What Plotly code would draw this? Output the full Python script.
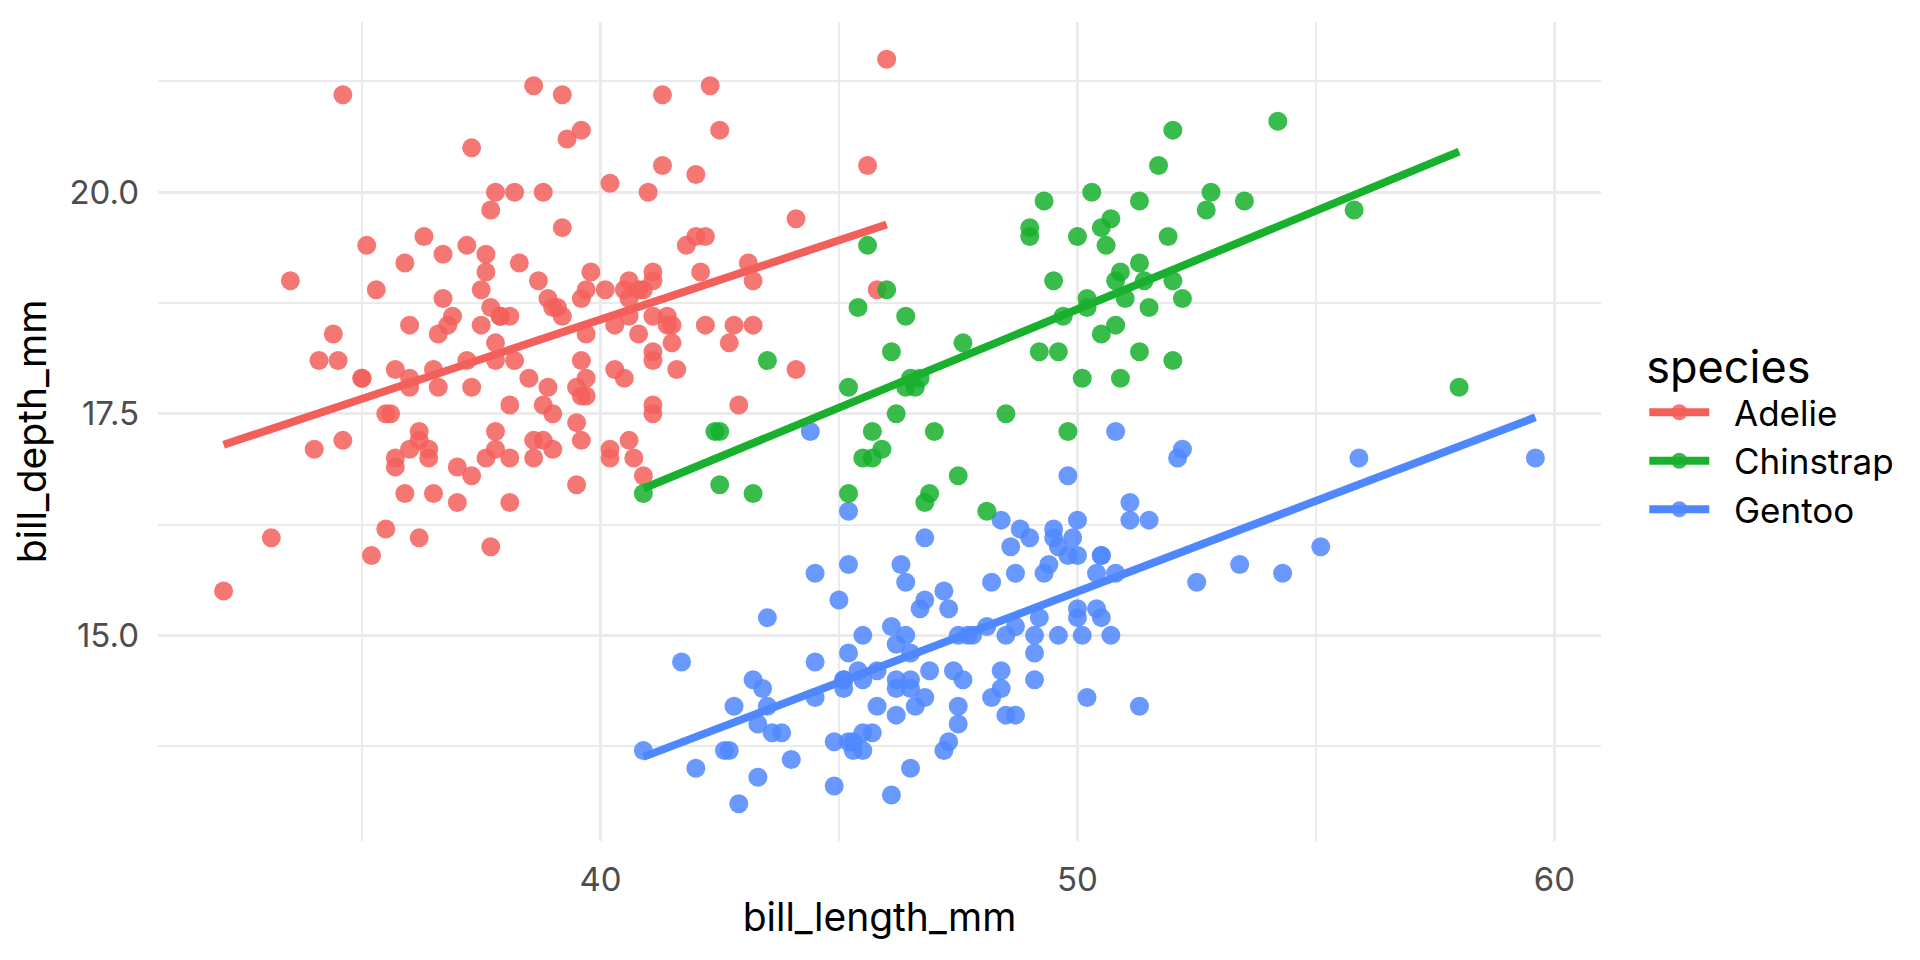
import numpy as np
import plotly.graph_objects as go

# bill length / depth per species
species = ["Adelie", "Chinstrap", "Gentoo"]
colors = {"Adelie": "#F35F5A", "Chinstrap": "#18B02D", "Gentoo": "#4F87FF"}

adelie_len = [39.1, 39.5, 40.3, 36.7, 39.3, 38.9, 39.2, 34.1, 42.0, 37.8,
              37.8, 41.1, 38.6, 34.6, 36.6, 38.7, 42.5, 34.4, 46.0, 37.8,
              37.7, 35.9, 38.2, 38.8, 35.3, 40.6, 40.5, 37.9, 40.5, 39.5,
              37.2, 39.5, 40.9, 36.4, 39.2, 38.8, 42.2, 37.6, 39.8, 36.5,
              40.8, 36.0, 44.1, 37.0, 39.6, 41.1, 37.5, 36.0, 42.3, 39.6,
              40.1, 35.0, 42.0, 34.5, 41.4, 39.0, 40.6, 36.5, 37.6, 35.7,
              41.3, 37.6, 41.1, 36.4, 41.6, 35.5, 41.1, 35.9, 41.8, 33.5,
              39.7, 39.6, 45.8, 35.5, 42.8, 40.9, 37.2, 36.2, 42.1, 34.6,
              42.9, 36.7, 35.1, 37.3, 41.3, 36.3, 36.9, 38.3, 38.9, 35.7,
              41.1, 34.0, 39.6, 36.2, 40.8, 38.1, 40.3, 33.1, 43.2, 35.0,
              41.0, 37.7, 37.8, 37.9, 39.7, 38.6, 38.2, 38.1, 43.2, 38.1,
              45.6, 39.7, 42.2, 39.6, 42.7, 38.6, 37.3, 35.7, 41.1, 36.2,
              37.7, 40.2, 41.4, 35.2, 40.6, 38.8, 41.5, 39.0, 44.1, 38.5,
              43.1, 36.8, 37.5, 38.1, 41.1, 35.6, 40.2, 37.0, 39.7, 40.2,
              40.6, 32.1, 40.7, 37.3, 39.0, 39.2, 36.6, 36.0, 37.8, 36.0, 41.5]
adelie_dep = [18.7, 17.4, 18.0, 19.3, 20.6, 17.8, 19.6, 18.1, 20.2, 17.1,
              17.3, 17.6, 21.2, 21.1, 17.8, 19.0, 20.7, 18.4, 21.5, 18.3,
              18.7, 19.2, 18.1, 17.2, 18.9, 18.6, 17.9, 18.6, 18.9, 16.7,
              18.1, 17.8, 18.9, 17.0, 21.1, 20.0, 18.5, 19.3, 19.1, 18.0,
              18.4, 18.5, 19.7, 16.9, 18.8, 19.0, 18.9, 17.9, 21.2, 17.7,
              18.9, 17.9, 19.5, 18.1, 18.6, 17.5, 18.8, 16.6, 19.1, 16.9,
              21.1, 17.0, 18.2, 17.1, 18.0, 16.2, 19.1, 16.6, 19.4, 19.0,
              18.4, 17.2, 18.9, 17.5, 18.5, 16.8, 19.4, 16.1, 19.1, 17.2,
              17.6, 18.8, 19.4, 17.8, 20.3, 19.5, 18.6, 19.2, 18.8, 18.0,
              18.1, 17.1, 18.1, 17.3, 18.9, 18.6, 18.5, 16.1, 18.5, 17.9,
              20.0, 16.0, 20.0, 18.6, 18.9, 17.2, 20.0, 17.0, 19.0, 16.5,
              20.3, 17.7, 19.5, 20.7, 18.3, 17.0, 20.5, 17.0, 18.6, 17.2,
              19.8, 17.0, 18.5, 15.9, 19.0, 17.6, 18.3, 17.1, 18.0, 17.9,
              19.2, 18.5, 18.5, 17.6, 17.5, 17.5, 20.1, 16.5, 17.9, 17.1,
              17.2, 15.5, 17.0, 16.8, 18.7, 18.6, 18.4, 17.8, 18.1, 17.1, 18.5]

chinstrap_len = [46.5, 50.0, 51.3, 45.4, 52.7, 45.2, 46.1, 51.3, 46.0, 51.3,
                 46.6, 51.7, 47.0, 52.0, 45.9, 50.5, 50.3, 58.0, 46.4, 49.2,
                 42.4, 48.5, 43.2, 50.6, 46.7, 52.0, 50.5, 49.5, 46.4, 52.8,
                 40.9, 54.2, 42.5, 51.0, 49.7, 47.5, 47.6, 52.0, 46.9, 53.5,
                 49.0, 46.2, 50.9, 45.5, 50.9, 50.8, 50.1, 49.0, 51.5, 49.8,
                 48.1, 51.4, 45.7, 50.7, 42.5, 52.2, 45.2, 49.3, 50.2, 45.6,
                 51.9, 46.8, 45.7, 55.8, 43.5, 49.6, 50.8, 50.2]
chinstrap_dep = [17.9, 19.5, 19.2, 18.7, 19.8, 17.8, 18.2, 18.2, 18.9, 19.9,
                 17.8, 20.3, 17.3, 18.1, 17.1, 19.6, 20.0, 17.8, 18.6, 18.2,
                 17.3, 17.5, 16.6, 19.4, 17.9, 19.0, 18.4, 19.0, 17.8, 20.0,
                 16.6, 20.8, 16.7, 18.8, 18.6, 16.8, 18.3, 20.7, 16.6, 19.9,
                 19.5, 17.5, 19.1, 17.0, 17.9, 18.5, 17.9, 19.6, 18.7, 17.3,
                 16.4, 19.0, 17.3, 19.7, 17.3, 18.8, 16.6, 19.9, 18.8, 19.4,
                 19.5, 16.5, 17.0, 19.8, 18.1, 18.2, 19.0, 18.7]

gentoo_len = [46.1, 50.0, 48.7, 50.0, 47.6, 46.5, 45.4, 46.7, 43.3, 46.8,
              40.9, 49.0, 45.5, 48.4, 45.8, 49.3, 42.0, 49.2, 46.2, 48.7,
              50.2, 45.1, 46.5, 46.3, 42.9, 46.1, 44.5, 47.8, 48.2, 50.0,
              47.3, 42.8, 45.1, 59.6, 49.1, 48.4, 42.6, 44.4, 44.0, 48.7,
              42.7, 49.6, 45.3, 49.6, 50.5, 43.6, 45.5, 50.5, 44.9, 45.2,
              46.6, 48.5, 45.1, 50.1, 46.5, 45.0, 43.8, 45.5, 43.2, 50.4,
              45.3, 46.2, 45.7, 54.3, 45.8, 49.8, 46.2, 49.5, 43.5, 50.7,
              47.7, 46.4, 48.2, 46.5, 46.4, 48.6, 47.5, 51.1, 45.2, 45.2,
              49.1, 52.5, 47.4, 50.0, 44.9, 50.8, 43.4, 51.3, 47.5, 52.1,
              47.5, 52.2, 45.5, 49.5, 44.5, 50.8, 49.4, 46.9, 48.4, 51.1,
              48.5, 55.9, 47.2, 49.1, 47.3, 46.8, 41.7, 53.4, 43.3, 48.1,
              50.5, 49.8, 43.5, 51.5, 46.2, 55.1, 44.5, 48.8, 47.2, 46.8,
              50.4, 45.2, 49.9]
gentoo_dep = [13.2, 16.3, 14.1, 15.2, 14.5, 13.5, 14.6, 15.3, 13.4, 15.4,
              13.7, 16.1, 13.7, 14.6, 14.6, 15.7, 13.5, 15.2, 14.5, 15.1,
              14.3, 14.5, 14.5, 15.8, 13.1, 15.1, 14.3, 15.0, 14.3, 15.3,
              15.3, 14.2, 14.5, 17.0, 14.8, 16.3, 13.7, 17.3, 13.6, 15.7,
              13.7, 16.0, 13.7, 15.0, 15.9, 13.9, 13.9, 15.9, 13.3, 15.8,
              14.2, 14.1, 14.4, 15.0, 14.4, 15.4, 13.9, 15.0, 14.5, 15.3,
              13.8, 14.9, 13.9, 15.7, 14.2, 16.8, 14.4, 16.2, 14.2, 15.0,
              15.0, 15.6, 15.6, 14.8, 15.0, 16.0, 14.2, 16.3, 13.8, 16.4,
              14.5, 15.6, 14.6, 15.9, 13.8, 17.3, 14.4, 14.2, 14.0, 17.0,
              15.0, 17.1, 14.5, 16.1, 14.7, 15.7, 15.8, 14.6, 14.4, 16.5,
              15.0, 17.0, 15.5, 15.0, 13.8, 16.1, 14.7, 15.8, 14.0, 15.1,
              15.2, 15.9, 15.2, 16.3, 14.1, 16.0, 15.7, 16.2, 13.7, 14.3,
              15.7, 14.8, 16.1]

data = {
    "Adelie": (adelie_len, adelie_dep),
    "Chinstrap": (chinstrap_len, chinstrap_dep),
    "Gentoo": (gentoo_len, gentoo_dep),
}

FONT = "Inter"
GRID = "#EBEBEB"

fig = go.Figure()

# points first (ggplot draws them in data order: Adelie, Gentoo, Chinstrap)
for sp in ["Adelie", "Gentoo", "Chinstrap"]:
    x, y = data[sp]
    fig.add_trace(go.Scatter(
        x=x, y=y, mode="markers", name=sp, showlegend=False,
        marker=dict(color=colors[sp], size=19, opacity=0.85, line=dict(width=0)),
    ))

# linear fit per species, over that species' x range
for sp in species:
    x, y = data[sp]
    slope, icpt = np.polyfit(x, y, 1)
    xs = np.array([min(x), max(x)])
    fig.add_trace(go.Scatter(
        x=xs, y=slope * xs + icpt, mode="lines", name=sp,
        showlegend=False, line=dict(color=colors[sp], width=8),
    ))

# legend keys: line + point, like ggplot's combined key
# (two nbsp push the label away from the key a little)
for sp in species:
    fig.add_trace(go.Scatter(
        x=[None], y=[None], mode="lines+markers", name="\u00a0\u00a0" + sp,
        line=dict(color=colors[sp], width=8),
        marker=dict(color=colors[sp], size=19, opacity=0.85),
    ))

fig.update_xaxes(
    range=[30.725, 60.975], tick0=0, dtick=10,
    showgrid=True, gridcolor=GRID, gridwidth=3,
    minor=dict(dtick=5, showgrid=True, gridcolor=GRID, gridwidth=1.5),
    zeroline=False, showline=False, ticks="", ticklabelstandoff=16,
    tickfont=dict(family=FONT, size=33, color="#4D4D4D"),
    title=dict(text="bill_length_mm", standoff=5,
               font=dict(family=FONT, size=39, color="black")),
)
fig.update_yaxes(
    range=[12.68, 21.92], tick0=0, dtick=2.5, tickformat=".1f",
    showgrid=True, gridcolor=GRID, gridwidth=3,
    minor=dict(dtick=1.25, showgrid=True, gridcolor=GRID, gridwidth=1.5),
    zeroline=False, showline=False, ticks="", ticklabelstandoff=18,
    tickfont=dict(family=FONT, size=33, color="#4D4D4D"),
    title=dict(text="bill_depth_mm", standoff=11,
               font=dict(family=FONT, size=39, color="black")),
)

# the page puts the figure 8px in from the corner
fig.update_layout(
    width=1904, height=944,
    margin=dict(l=150, r=311, t=14, b=111),
    plot_bgcolor="white", paper_bgcolor="white",
    font=dict(family=FONT),
    legend=dict(
        x=1.03, xanchor="left", y=0.5, yanchor="middle",
        title=dict(text="species", font=dict(family=FONT, size=45, color="black")),
        font=dict(family=FONT, size=35, color="black"),
        itemwidth=60, tracegroupgap=0,
    ),
)

fig.write_html("out.html")
